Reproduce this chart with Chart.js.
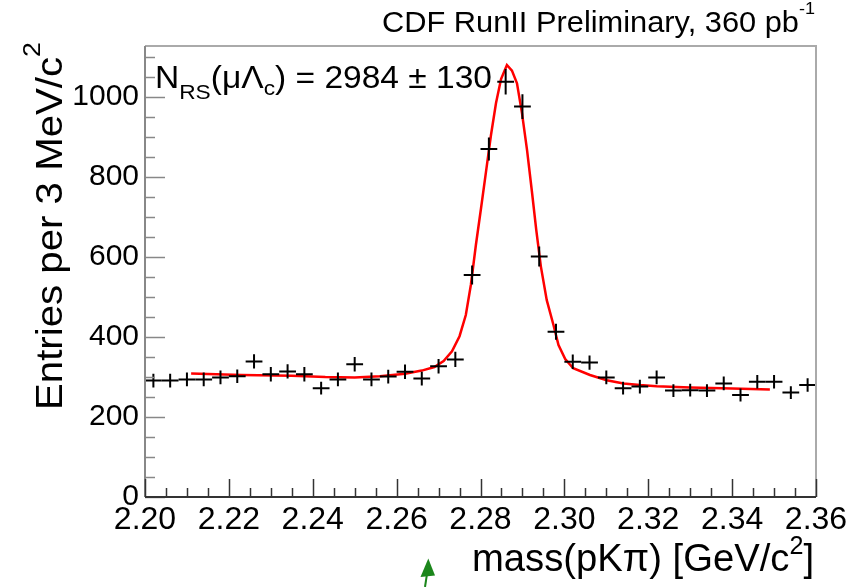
<!DOCTYPE html>
<html><head><meta charset="utf-8">
<script src="https://cdn.jsdelivr.net/npm/chart.js@4.4.1/dist/chart.umd.min.js"></script>
<style>html,body{margin:0;padding:0;background:#fff;overflow:hidden}canvas{display:block}</style>
</head><body>
<canvas id="c" width="867" height="587"></canvas>
<script>
// ---- data ----
const binCenters = [2.202,2.206,2.210,2.214,2.218,2.222,2.226,2.230,2.234,2.238,
                    2.242,2.246,2.250,2.254,2.258,2.262,2.266,2.270,2.274,2.278,
                    2.282,2.286,2.290,2.294,2.298,2.302,2.306,2.310,2.314,2.318,
                    2.322,2.326,2.330,2.334,2.338,2.342,2.346,2.350,2.354,2.358];
const entries = [291,291,294,294,299,302,339,307,314,307,
                 272,294,332,294,301,313,296,327,344,555,
                 870,1038,976,601,413,338,336,299,272,276,
                 299,266,267,266,284,255,288,288,261,280];
const entryErrors = [17,17,17,17,17,17,18,18,18,18,
                     16,17,18,17,17,18,17,18,19,24,
                     29,32,31,25,20,18,18,17,16,17,
                     17,16,16,16,17,16,17,17,16,17];
const binHalfWidth = 0.002;
const fitMass = [2.211,2.223,2.235,2.243,2.250,2.256,2.262,2.266,2.2690,2.2712,2.2732,2.2750,
                 2.2765,2.2777,2.2789,2.2801,2.2813,2.2825,2.2837,2.2849,2.2863,2.2875,2.2887,
                 2.2899,2.2911,2.2923,2.2933,2.2944,2.2958,2.2974,2.2986,2.3002,2.3021,2.3061,
                 2.3101,2.3141,2.3180,2.3220,2.3300,2.3400,2.3490];
const fitValues = [309,305,303,300,299,302,308,316,325,340,364,402,
                   455,530,630,720,812,905,985,1045,1080,1066,1034,
                   959,867,760,667,576,492,430,380,345,322,305,
                   292,284,280,277,274,271,269];
const xTicks = [2.20,2.22,2.24,2.26,2.28,2.30,2.32,2.34,2.36];
const yTicks = [0,200,400,600,800,1000];
const yMax = 1127.5;

const FONT = '"Liberation Sans", Arial, Helvetica, sans-serif';

function drawRich(ctx, segs, x, y, target){
  let w = 0;
  segs.forEach(s => { ctx.font = s.size + 'px ' + FONT; s.w = ctx.measureText(s.t).width; w += s.w; });
  const sx = target ? target / w : 1;
  ctx.save();
  ctx.translate(x, y);
  ctx.scale(sx, 1);
  ctx.textAlign = 'left';
  ctx.textBaseline = 'alphabetic';
  ctx.fillStyle = '#000';
  let cx = 0;
  segs.forEach(s => { ctx.font = s.size + 'px ' + FONT; ctx.fillText(s.t, cx, s.dy || 0); cx += s.w; });
  ctx.restore();
}

const decor = {
  id: 'decor',
  beforeDraw(chart){
    const ctx = chart.ctx;
    ctx.save(); ctx.fillStyle = '#fff'; ctx.fillRect(0,0,chart.width,chart.height); ctx.restore();
  },
  afterDatasetsDraw(chart){
    const {ctx, scales:{x, y}} = chart;
    ctx.save();
    ctx.strokeStyle = '#000';
    ctx.lineWidth = 2;
    binCenters.forEach((m, i) => {
      const px = x.getPixelForValue(m), py = y.getPixelForValue(entries[i]);
      const x0 = x.getPixelForValue(m - binHalfWidth), x1 = x.getPixelForValue(m + binHalfWidth);
      const y0 = y.getPixelForValue(entries[i] - entryErrors[i]), y1 = y.getPixelForValue(entries[i] + entryErrors[i]);
      ctx.beginPath();
      ctx.moveTo(x0, py); ctx.lineTo(x1, py);
      ctx.moveTo(px, y0); ctx.lineTo(px, y1);
      ctx.stroke();
    });
    ctx.restore();
  },
  afterDraw(chart){
    const {ctx, chartArea:a, scales:{x, y}} = chart;
    ctx.save();
    // frame
    ctx.lineWidth = 2;
    ctx.strokeStyle = '#aaa';
    ctx.beginPath(); ctx.moveTo(a.left, a.top); ctx.lineTo(a.right, a.top); ctx.lineTo(a.right, a.bottom); ctx.stroke();
    ctx.strokeStyle = '#888';
    ctx.beginPath(); ctx.moveTo(a.left, a.top); ctx.lineTo(a.left, a.bottom); ctx.stroke();
    // y ticks (inward)
    ctx.lineWidth = 1.5;
    for (let v = 0; v <= yMax; v += 50) {
      const py = Math.round(y.getPixelForValue(v)) + 0.5;
      const len = (v % 200 === 0) ? 20 : 10;
      ctx.beginPath(); ctx.moveTo(a.left, py); ctx.lineTo(a.left + len, py); ctx.stroke();
    }
    // x axis and ticks
    ctx.strokeStyle = '#333';
    ctx.lineWidth = 2;
    ctx.beginPath(); ctx.moveTo(a.left, a.bottom); ctx.lineTo(a.right, a.bottom); ctx.stroke();
    ctx.lineWidth = 1.5;
    for (let k = 0; k <= 32; k++) {
      const v = 2.2 + k * 0.005;
      const px = Math.round(x.getPixelForValue(v)) + 0.5;
      const len = (k % 4 === 0) ? 18 : 9;
      ctx.beginPath(); ctx.moveTo(px, a.bottom); ctx.lineTo(px, a.bottom - len); ctx.stroke();
    }
    ctx.restore();

    // texts
    drawRich(ctx, [{t:'CDF RunII Preliminary, 360 pb', size:29},{t:'-1', size:17, dy:-18}], 382, 32, 433);
    drawRich(ctx, [
      {t:'N', size:31},{t:'RS', size:21, dy:11},{t:'(\u03bc\u039b', size:31},{t:'c', size:21, dy:7},
      {t:') = 2984 \u00b1 130', size:31}], 155, 88, 337);
    drawRich(ctx, [{t:'mass(pK\u03c0) [GeV/c', size:38},{t:'2', size:25, dy:-17},{t:']', size:38}], 472, 571, 342);
    ctx.save();
    ctx.translate(62, 410);
    ctx.rotate(-Math.PI/2);
    drawRich(ctx, [{t:'Entries per 3 MeV/c', size:36},{t:'2', size:24, dy:-22}], 0, 0, 368);
    ctx.restore();

    // green arrow
    ctx.save();
    ctx.strokeStyle = '#1b861b'; ctx.fillStyle = '#1b861b'; ctx.lineWidth = 2;
    ctx.beginPath(); ctx.moveTo(425, 587); ctx.lineTo(427, 574); ctx.stroke();
    ctx.beginPath(); ctx.moveTo(428.3, 558.5); ctx.lineTo(420.5, 577); ctx.lineTo(435, 575.5); ctx.closePath(); ctx.fill();
    ctx.restore();
  }
};

new Chart(document.getElementById('c').getContext('2d'), {
  type: 'scatter',
  data: {
    datasets: [
      { label: 'data', data: binCenters.map((m, i) => ({x: m, y: entries[i]})), pointRadius: 0, showLine: false },
      { label: 'fit', type: 'line', data: fitMass.map((m, i) => ({x: m, y: fitValues[i]})),
        borderColor: '#ff0000', borderWidth: 2.5, pointRadius: 0, tension: 0, fill: false }
    ]
  },
  options: {
    responsive: false, animation: false, devicePixelRatio: 1,
    layout: { padding: { left: 0, top: 46, right: 51, bottom: 0 } },
    plugins: { legend: { display: false }, tooltip: { enabled: false } },
    scales: {
      x: {
        type: 'linear', min: 2.2, max: 2.36,
        afterBuildTicks: s => { s.ticks = xTicks.map(v => ({value: v})); },
        afterFit: s => { s.height = 90; },
        grid: { display: false, drawTicks: false }, border: { display: false },
        ticks: { font: { family: FONT, size: 32 }, color: '#000', padding: 4, maxRotation: 0, autoSkip: false,
                 callback: v => Number(v).toFixed(2) }
      },
      y: {
        type: 'linear', min: 0, max: yMax,
        afterBuildTicks: s => { s.ticks = yTicks.map(v => ({value: v})); },
        afterFit: s => { s.width = 145; },
        grid: { display: false, drawTicks: false }, border: { display: false },
        ticks: { font: { family: FONT, size: 30 }, color: '#000', padding: 6, autoSkip: false,
                 callback: v => String(v) }
      }
    }
  },
  plugins: [decor]
});
</script>
</body></html>
